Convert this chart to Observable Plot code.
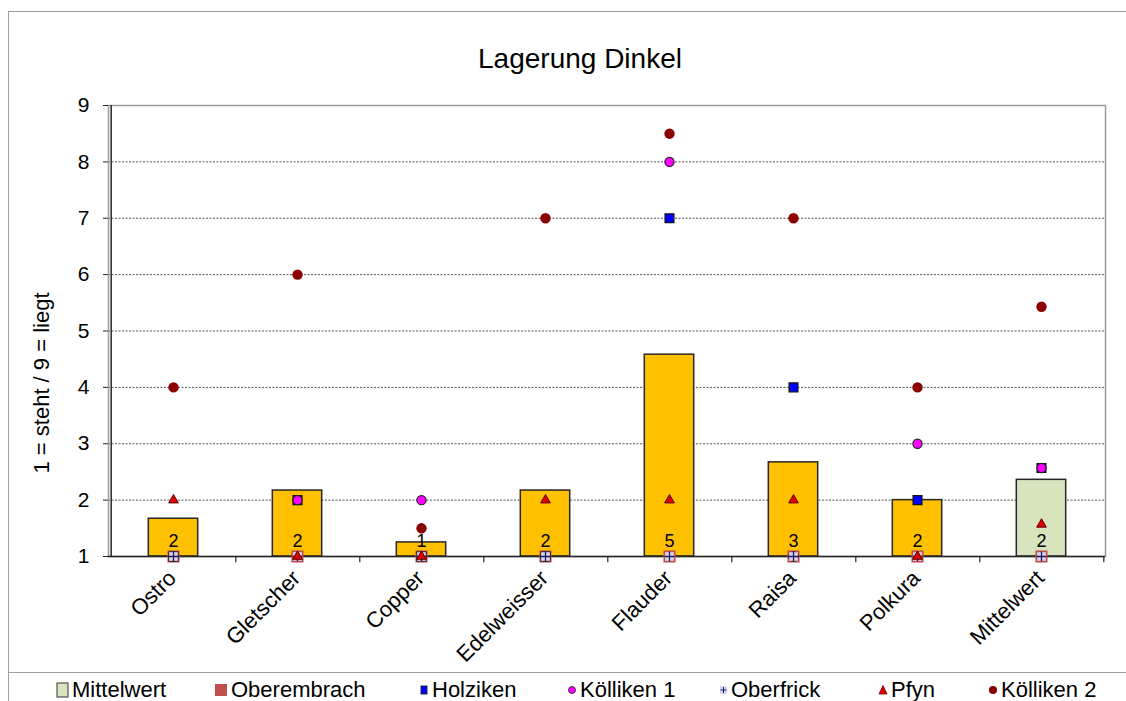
<!DOCTYPE html>
<html>
<head>
<meta charset="utf-8">
<script src="https://cdn.jsdelivr.net/npm/d3@7"></script>
<script src="https://cdn.jsdelivr.net/npm/@observablehq/plot@0.6"></script>
<style>
  body { margin: 0; background: #fff; font-family: "Liberation Sans", Arial, sans-serif; }
  #chart { position: relative; width: 1126px; height: 701px; overflow: hidden; background: #fff; }
  .outer { position: absolute; left: 8px; top: 11px; width: 1300px; height: 900px; border-left: 1.5px solid #a0a0a0; border-top: 1.5px solid #a0a0a0; }
  .sep { position: absolute; left: 8px; top: 672px; width: 1300px; height: 0; border-top: 1.5px solid #a0a0a0; }
  .title { position: absolute; left: 0; top: 43px; width: 1160px; text-align: center; font-size: 28px; color: #000; }
  .ylabel { position: absolute; left: 42px; top: 383px; font-size: 22px; color: #000; white-space: nowrap; transform: translate(-50%, -50%) rotate(-90deg); }
  #plot { position: absolute; left: 0; top: 80px; }
  .leg { position: absolute; top: 676px; height: 28px; display: flex; align-items: center; font-size: 22px; color: #000; white-space: nowrap; }
  .leg svg { display: block; margin-right: 3px; }
</style>
</head>
<body>
<div id="chart">
  <div class="outer"></div>
  <div class="title">Lagerung Dinkel</div>
  <div id="plot"></div>
  <div class="ylabel" id="ylabel"></div>
  <div class="sep"></div>
  <div id="legend"></div>
</div>
<script>
// ---- data ----
const categories = ["Ostro", "Gletscher", "Copper", "Edelweisser", "Flauder", "Raisa", "Polkura", "Mittelwert"];
const meanValues = [1.67, 2.17, 1.25, 2.17, 4.58, 2.67, 2.0, 2.36];
const meanLabels = ["2", "2", "1", "2", "5", "3", "2", "2"];
const oberembrach = [1, 1, 1, 1, 1, 1, 1, 1];
const holziken    = [1, 2, 1, 1, 7, 4, 2, 2.57];
const koelliken1  = [1, 2, 2, 1, 8, 1, 3, 2.57];
const oberfrick   = [1, 1, 1, 1, 1, 1, 1, 1];
const pfyn        = [2, 1, 1, 2, 2, 2, 1, 1.57];
const koelliken2  = [4, 6, 1.5, 7, 8.5, 7, 4, 5.43];
const yTicks = [1, 2, 3, 4, 5, 6, 7, 8, 9];
const yLabel = "1 = steht / 9 = liegt";
const seriesNames = ["Mittelwert", "Oberembrach", "Holziken", "Kölliken 1", "Oberfrick", "Pfyn", "Kölliken 2"];

const rows = categories.map((c, i) => ({
  cat: c, mean: meanValues[i], label: meanLabels[i],
  oberembrach: oberembrach[i], holziken: holziken[i], koelliken1: koelliken1[i],
  oberfrick: oberfrick[i], pfyn: pfyn[i], koelliken2: koelliken2[i]
}));

const W = 1126, H = 592;
const mL = 108, mR = 21, mT = 25, mB = 116;
const bw = (W - mL - mR) / categories.length;
const barW = 50;
const inset = (bw - barW) / 2;

const chart = Plot.plot({
  width: W, height: H,
  marginLeft: mL, marginRight: mR, marginTop: mT, marginBottom: mB,
  style: { fontFamily: "'Liberation Sans', Arial, sans-serif", color: "#000", background: "transparent" },
  x: { type: "band", domain: categories, padding: 0, axis: null },
  y: { domain: [1, 9], axis: null },
  marks: [
    Plot.ruleY(yTicks.slice(1, -1), { stroke: "#555", strokeWidth: 1, strokeDasharray: "2,1.5" }),
    Plot.frame({ stroke: "#9a9a9a", strokeWidth: 1.5 }),
    Plot.barY(rows.filter(d => d.cat !== "Mittelwert"), {
      x: "cat", y1: () => 1, y2: "mean", fill: "#FFC000", stroke: "#262626", strokeWidth: 1.5,
      insetLeft: inset, insetRight: inset
    }),
    Plot.barY(rows.filter(d => d.cat === "Mittelwert"), {
      x: "cat", y1: () => 1, y2: "mean", fill: "#D7E4BD", stroke: "#262626", strokeWidth: 1.5,
      insetLeft: inset, insetRight: inset
    }),
    Plot.text(rows, { x: "cat", y: () => 1, text: "label", dy: -15, fontSize: 18, fill: "#000" }),
    // axes lines
    Plot.ruleY([1], { stroke: "#262626", strokeWidth: 1.5 }),
    Plot.ruleX([categories[0]], { dx: -bw / 2, stroke: "#262626", strokeWidth: 1.5 }),
    Plot.ruleX(categories, { x: d => d, dx: bw / 2, y1: () => 1, y2: () => 0.89, stroke: "#262626", strokeWidth: 1.2 }),
    Plot.axisY({ ticks: yTicks, tickSize: 5, tickPadding: 14, fontSize: 21, tickFormat: d => String(d), label: null, stroke: "#262626" }),
    Plot.text(rows, { x: "cat", y: () => 1, text: "cat", rotate: -45, textAnchor: "end", lineAnchor: "middle", dx: -1, dy: 18, fontSize: 22, fill: "#000" }),
    // series markers
    Plot.dot(rows, { x: "cat", y: "oberembrach", symbol: "square", r: 6.8, fill: "#C0504D", stroke: "none" }),
    Plot.dot(rows, { x: "cat", y: "holziken", symbol: "square", r: 5, fill: "#0000FF", stroke: "#111", strokeWidth: 1.2 }),
    Plot.dot(rows, { x: "cat", y: "koelliken1", symbol: "circle", r: 4.6, fill: "#FF00FF", stroke: "#222", strokeWidth: 1.2 }),
    Plot.dot(rows, { x: "cat", y: "oberfrick", symbol: "square", r: 4.9, fill: "#D9D5EE", stroke: "none" }),
    Plot.dot(rows, { x: "cat", y: "oberfrick", symbol: "plus", r: 3.2, fill: "none", stroke: "#1a1a60", strokeWidth: 1.3 }),
    Plot.dot(rows, { x: "cat", y: "pfyn", symbol: "triangle", r: 3.6, fill: "#E00000", stroke: "#600000", strokeWidth: 1 }),
    Plot.dot(rows, { x: "cat", y: "koelliken2", symbol: "circle", r: 5.2, fill: "#8B0000", stroke: "none" })
  ]
});
document.getElementById("plot").appendChild(chart);
document.getElementById("ylabel").textContent = yLabel;

// ---- legend ----
const legendLeft = [53, 212, 413, 561, 712, 872, 982];
const swatches = [
  '<rect x="4" y="2" width="11" height="14" fill="#D7E4BD" stroke="#333" stroke-width="1"/>',
  '<rect x="3" y="3" width="12" height="12" fill="#C0504D"/>',
  '<rect x="8" y="5" width="6" height="8" fill="#0000FF" stroke="#111" stroke-width="0.8"/>',
  '<circle cx="11" cy="9" r="3.5" fill="#FF00FF" stroke="#222" stroke-width="0.8"/>',
  '<rect x="8" y="5" width="7" height="8" fill="#D9D5EE"/><path d="M11.5 6V12M8.5 9H14.5" stroke="#1a1a60" stroke-width="1"/>',
  '<path d="M11 4.5L15 13H7Z" fill="#E00000" stroke="#600000" stroke-width="0.8"/>',
  '<circle cx="11" cy="9" r="4" fill="#8B0000"/>'
];
const leg = document.getElementById("legend");
seriesNames.forEach((name, i) => {
  const d = document.createElement("div");
  d.className = "leg";
  d.style.left = legendLeft[i] + "px";
  d.innerHTML = `<svg width="16" height="18" viewBox="0 0 16 18">${swatches[i]}</svg><span>${name}</span>`;
  leg.appendChild(d);
});
</script>
</body>
</html>
